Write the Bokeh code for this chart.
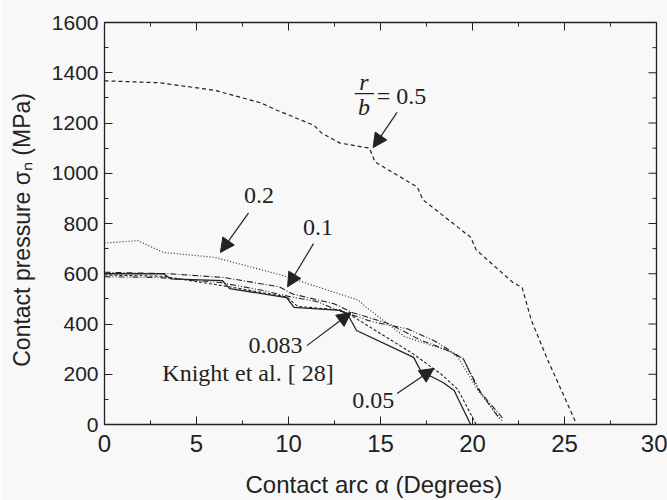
from bokeh.plotting import figure
from bokeh.models import Range1d, Arrow, NormalHead, FixedTicker
from bokeh.core.properties import value
from bokeh.embed import file_html
from bokeh.resources import INLINE

# ---- data ----
rb05_x = [0, 3.0, 6.0, 8.5, 9.4, 11.4, 11.8, 12.8, 14.4, 14.7, 17.0, 17.3, 19.9, 20.2, 22.2, 22.7, 23.2, 24.1, 24.9, 25.6]
rb05_y = [1368, 1360, 1330, 1280, 1250, 1190, 1160, 1120, 1100, 1045, 945, 895, 745, 695, 565, 545, 414, 255, 125, 10]

rb02_x = [0, 1.8, 3.2, 6.0, 9.6, 13.8, 14.2, 16.3, 18.8, 19.2, 20.3, 21.6]
rb02_y = [722, 732, 685, 665, 595, 495, 468, 350, 290, 268, 135, 15]

rb01_x = [0, 3.5, 6.5, 9.5, 10.2, 12.5, 13.5, 15.5, 17.2, 18.5, 19.5, 20.3, 21.7]
rb01_y = [606, 600, 585, 548, 520, 480, 445, 400, 335, 300, 262, 140, 20]

rb0083_x = [0, 3.0, 6.3, 8.5, 10.0, 11.5, 12.7, 13.3, 14.5, 16.5, 18.0, 19.5, 20.5, 21.5]
rb0083_y = [588, 585, 565, 535, 510, 490, 455, 440, 410, 380, 330, 260, 120, 20]

rb005_x = [0, 3.2, 6.8, 9.9, 10.5, 12.8, 13.5, 16.8, 18.3, 19.2, 20.2]
rb005_y = [595, 590, 548, 508, 470, 456, 430, 280, 200, 140, 0]

knight_x = [0, 3.2, 3.6, 6.4, 6.8, 9.9, 10.3, 12.8, 13.2, 13.7, 16.8, 17.2, 18.4, 19.0, 19.9]
knight_y = [600, 600, 580, 573, 541, 505, 466, 454, 440, 374, 267, 212, 167, 135, 0]

x_ticks = [0, 5, 10, 15, 20, 25, 30]
x_minor = [2.5, 7.5, 12.5, 17.5, 22.5, 27.5]
y_ticks = [0, 200, 400, 600, 800, 1000, 1200, 1400, 1600]
y_minor = [100, 300, 500, 700, 900, 1100, 1300, 1500]

BG = "#f8f8f8"
INK = "#222222"
SANS = "Liberation Sans"
SERIF = "Liberation Serif"

X0, X1, Y0, Y1 = 0, 30, 0, 1600
W, H = 667, 500
BL, BR, BT, BB = 104, 11, 22, 76

p = figure(width=W, height=H, output_backend="svg", toolbar_location=None,
           x_range=Range1d(X0, X1), y_range=Range1d(Y0, Y1),
           min_border_left=BL, min_border_right=BR, min_border_top=BT, min_border_bottom=BB,
           background_fill_color=BG, border_fill_color=BG)
p.grid.visible = False
p.outline_line_color = INK
p.outline_line_width = 1.3

for ax in p.xaxis + p.yaxis:
    ax.major_tick_in = 8
    ax.major_tick_out = 0
    ax.minor_tick_in = 4
    ax.minor_tick_out = 0
    ax.axis_line_color = INK
    ax.major_tick_line_color = INK
    ax.minor_tick_line_color = INK
    ax.major_label_text_font = SANS
    ax.major_label_text_color = INK
    ax.axis_label_text_font = SANS
    ax.axis_label_text_font_style = "normal"
    ax.axis_label_text_color = INK

p.xaxis.ticker = FixedTicker(ticks=x_ticks, minor_ticks=x_minor)
p.yaxis.ticker = FixedTicker(ticks=y_ticks, minor_ticks=y_minor)
p.xaxis.major_label_text_font_size = "24px"
p.yaxis.major_label_text_font_size = "21px"
p.xaxis.axis_label_text_font_size = "24px"
p.yaxis.axis_label_text_font_size = "23px"
p.xaxis.axis_label = "Contact arc  \u03b1  (Degrees)"
p.yaxis.axis_label = "Contact pressure  \u03c3\u2099  (MPa)"
p.xaxis.major_label_standoff = 10
p.xaxis.axis_label_standoff = 16
p.yaxis.major_label_standoff = 6
p.yaxis.axis_label_standoff = 14

# mirrored ticks on the top and right frame edges (inside)
px_x = (X1 - X0) / (W - BL - BR)
px_y = (Y1 - Y0) / (H - BT - BB)
p.segment([X1] * len(y_ticks), y_ticks, [X1 - 8 * px_x] * len(y_ticks), y_ticks, line_color=INK, line_width=1)
p.segment([X1] * len(y_minor), y_minor, [X1 - 4 * px_x] * len(y_minor), y_minor, line_color=INK, line_width=1)
p.segment(x_ticks, [Y1] * len(x_ticks), x_ticks, [Y1 - 8 * px_y] * len(x_ticks), line_color=INK, line_width=1)
p.segment(x_minor, [Y1] * len(x_minor), x_minor, [Y1 - 4 * px_y] * len(x_minor), line_color=INK, line_width=1)

# ---- curves ----
p.line(rb05_x, rb05_y, line_color=INK, line_width=1.2, line_dash="4 3")
p.line(rb02_x, rb02_y, line_color=INK, line_width=1.1, line_dash="1 2")
p.line(rb01_x, rb01_y, line_color=INK, line_width=1.1, line_dash="6 2 1 2")
p.line(rb0083_x, rb0083_y, line_color=INK, line_width=1.1, line_dash="6 2 1 2 1 2")
p.line(rb005_x, rb005_y, line_color=INK, line_width=1.1, line_dash="3 2")
p.line(knight_x, knight_y, line_color=INK, line_width=1.3)

# ---- annotations ----
def arrow(x0, y0, x1, y1):
    p.add_layout(Arrow(x_start=x0, y_start=y0, x_end=x1, y_end=y1, line_color=INK, line_width=1.2,
                       end=NormalHead(size=14, fill_color=INK, line_color=INK)))

lbl = dict(text_font=value(SERIF), text_font_size="24px", text_color=INK)

# r/b = 0.5
p.text([14.1], [1363], text=["r"], text_align="center", text_baseline="middle",
       text_font_style="italic", **lbl)
p.text([14.1], [1262], text=["b"], text_align="center", text_baseline="middle",
       text_font_style="italic", **lbl)
p.segment([13.6], [1317], [14.65], [1317], line_color=INK, line_width=1.2)
p.text([14.8], [1309], text=["= 0.5"], text_align="left", text_baseline="middle", **lbl)
arrow(15.9, 1242, 14.6, 1102)

p.text([8.4], [910], text=["0.2"], text_align="center", text_baseline="middle", **lbl)
arrow(7.83, 842, 6.3, 685)

p.text([11.6], [785], text=["0.1"], text_align="center", text_baseline="middle", **lbl)
arrow(11.36, 720, 9.95, 548)

p.text([9.3], [315], text=["0.083"], text_align="center", text_baseline="middle", **lbl)
arrow(11.0, 314, 13.4, 446)

p.text([7.8], [203], text=["Knight et al. [ 28]"], text_align="center", text_baseline="middle", **lbl)

p.text([14.6], [95], text=["0.05"], text_align="center", text_baseline="middle", **lbl)
arrow(15.9, 123, 17.9, 223)

open("out.html", "w").write(file_html(p, INLINE))
